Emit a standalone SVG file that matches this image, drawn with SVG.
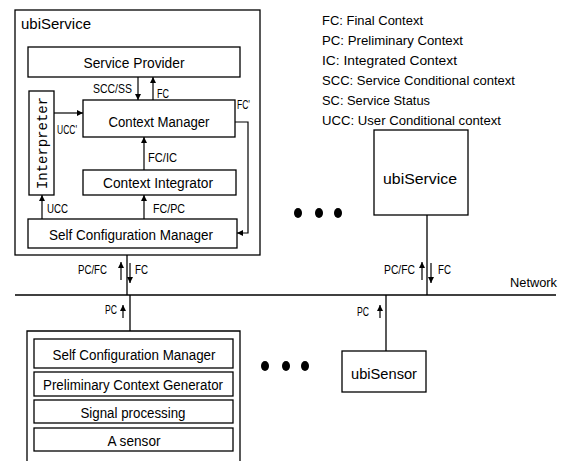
<svg xmlns="http://www.w3.org/2000/svg" width="565" height="461" viewBox="0 0 565 461">
<defs>
<style>
.box{fill:none;stroke:#000;stroke-width:1.3}
.ln{fill:none;stroke:#000;stroke-width:1.3}
.ar{fill:none;stroke:#000;stroke-width:1.2;marker-end:url(#ah)}
text{font-family:"Liberation Sans",Arial,sans-serif;fill:#000}
.t{font-size:14px;text-anchor:middle}
.s{font-size:12px}
.lg{font-size:13.5px}
.dot{fill:#000}
</style>
<marker id="ah" viewBox="0 0 8 8" refX="8" refY="4" markerWidth="6" markerHeight="6" orient="auto" markerUnits="userSpaceOnUse"><path d="M0,0 L8,4 L0,8 z" fill="#000"/></marker>
</defs>
<rect width="565" height="461" fill="#fff"/>

<g id="ubiService-main">
<rect class="box" x="15" y="10" width="245" height="245"/>
<text x="21" y="29" style="font-size:15px" textLength="70" lengthAdjust="spacingAndGlyphs">ubiService</text>
</g>
<g id="service-provider">
<rect class="box" x="28" y="47" width="212" height="30"/>
<text class="t" x="134" y="68" textLength="101" lengthAdjust="spacingAndGlyphs">Service Provider</text>
</g>
<g id="context-manager">
<rect class="box" x="83" y="100" width="152" height="37"/>
<text class="t" x="159" y="127" textLength="101" lengthAdjust="spacingAndGlyphs">Context Manager</text>
</g>
<g id="interpreter">
<rect class="box" x="29" y="91" width="25" height="104"/>
<text transform="translate(47,143) rotate(-90)" style="font-family:'Liberation Mono',monospace;font-size:14px;text-anchor:middle" textLength="92" lengthAdjust="spacingAndGlyphs">Interpreter</text>
</g>
<g id="context-integrator">
<rect class="box" x="83" y="170" width="153" height="25"/>
<text class="t" x="158" y="188" textLength="110" lengthAdjust="spacingAndGlyphs">Context Integrator</text>
</g>
<g id="self-config-manager">
<rect class="box" x="28" y="219" width="209" height="29"/>
<text class="t" x="131" y="240" textLength="164" lengthAdjust="spacingAndGlyphs">Self Configuration Manager</text>
</g>

<g id="legend" class="lg">
<text x="322" y="25" textLength="101" lengthAdjust="spacingAndGlyphs">FC: Final Context</text>
<text x="322" y="45" textLength="141" lengthAdjust="spacingAndGlyphs">PC: Preliminary Context</text>
<text x="322" y="65" textLength="135" lengthAdjust="spacingAndGlyphs">IC: Integrated Context</text>
<text x="322" y="85" textLength="193" lengthAdjust="spacingAndGlyphs">SCC: Service Conditional context</text>
<text x="322" y="105" textLength="108" lengthAdjust="spacingAndGlyphs">SC: Service Status</text>
<text x="322" y="125" textLength="179" lengthAdjust="spacingAndGlyphs">UCC: User Conditional context</text>
</g>

<g id="ubiService-right">
<rect class="box" x="374" y="130" width="94" height="85"/>
<text class="t" x="420" y="184" textLength="74" lengthAdjust="spacingAndGlyphs">ubiService</text>
</g>

<g id="ubiSensor">
<rect class="box" x="342" y="351" width="84" height="41"/>
<text class="t" x="384" y="379" textLength="66" lengthAdjust="spacingAndGlyphs">ubiSensor</text>
</g>

<g id="sensor-node">
<path class="box" d="M27,462 V331 H240 V462"/>
<rect class="box" x="34" y="339" width="199" height="29"/>
<text class="t" x="134" y="360" textLength="163" lengthAdjust="spacingAndGlyphs">Self Configuration Manager</text>
<rect class="box" x="34" y="372" width="199" height="24"/>
<text class="t" x="133" y="390" textLength="180" lengthAdjust="spacingAndGlyphs">Preliminary Context Generator</text>
<rect class="box" x="34" y="400" width="199" height="23"/>
<text class="t" x="133" y="418" textLength="105" lengthAdjust="spacingAndGlyphs">Signal processing</text>
<rect class="box" x="34" y="428" width="199" height="23"/>
<text class="t" x="134" y="446" textLength="53" lengthAdjust="spacingAndGlyphs">A sensor</text>
</g>

<g id="dots">
<ellipse class="dot" cx="298" cy="213" rx="4" ry="5"/>
<ellipse class="dot" cx="319" cy="213" rx="4" ry="5"/>
<ellipse class="dot" cx="338" cy="213" rx="4" ry="5"/>
<ellipse class="dot" cx="265" cy="366" rx="4" ry="5"/>
<ellipse class="dot" cx="286" cy="366" rx="4" ry="5"/>
<ellipse class="dot" cx="305" cy="366" rx="4" ry="5"/>
</g>

<g id="network">
<line class="ln" x1="15" y1="295" x2="556" y2="295"/>
<text x="510" y="287" style="font-size:13.5px" textLength="47" lengthAdjust="spacingAndGlyphs">Network</text>
</g>

<g id="connectors">
<line class="ar" x1="138" y1="77" x2="138" y2="100"/>
<line class="ar" x1="153" y1="100" x2="153" y2="77"/>
<line class="ar" x1="54" y1="113" x2="83" y2="113"/>
<line class="ar" x1="144" y1="170" x2="144" y2="137"/>
<line class="ar" x1="144" y1="219" x2="144" y2="195"/>
<line class="ar" x1="42" y1="219" x2="42" y2="195"/>
<polyline class="ar" points="235,122 248,122 248,233 237,233"/>
<line class="ln" x1="127" y1="255" x2="127" y2="295"/>
<line class="ar" x1="121" y1="280" x2="121" y2="262"/>
<line class="ar" x1="130" y1="263" x2="130" y2="283"/>
<line class="ln" x1="130" y1="295" x2="130" y2="331"/>
<line class="ar" x1="123" y1="318" x2="123" y2="305"/>
<line class="ln" x1="427" y1="215" x2="427" y2="295"/>
<line class="ar" x1="422" y1="280" x2="422" y2="262"/>
<line class="ar" x1="431" y1="263" x2="431" y2="283"/>
<line class="ln" x1="386" y1="295" x2="386" y2="351"/>
<line class="ar" x1="380" y1="318" x2="380" y2="305"/>
</g>

<g id="labels" class="s">
<text x="93" y="93" textLength="39" lengthAdjust="spacingAndGlyphs">SCC/SS</text>
<text x="157" y="98" textLength="12" lengthAdjust="spacingAndGlyphs">FC</text>
<text x="57" y="134" textLength="20" lengthAdjust="spacingAndGlyphs">UCC'</text>
<text x="237" y="109" textLength="13" lengthAdjust="spacingAndGlyphs">FC'</text>
<text x="148" y="162" textLength="29" lengthAdjust="spacingAndGlyphs">FC/IC</text>
<text x="153" y="213" textLength="32" lengthAdjust="spacingAndGlyphs">FC/PC</text>
<text x="47" y="213" textLength="21" lengthAdjust="spacingAndGlyphs">UCC</text>
<text x="78" y="274" textLength="29" lengthAdjust="spacingAndGlyphs">PC/FC</text>
<text x="135" y="274" textLength="13" lengthAdjust="spacingAndGlyphs">FC</text>
<text x="105" y="314" textLength="12" lengthAdjust="spacingAndGlyphs">PC</text>
<text x="384" y="274" textLength="31" lengthAdjust="spacingAndGlyphs">PC/FC</text>
<text x="438" y="274" textLength="13" lengthAdjust="spacingAndGlyphs">FC</text>
<text x="357" y="316" textLength="12" lengthAdjust="spacingAndGlyphs">PC</text>
</g>
</svg>
